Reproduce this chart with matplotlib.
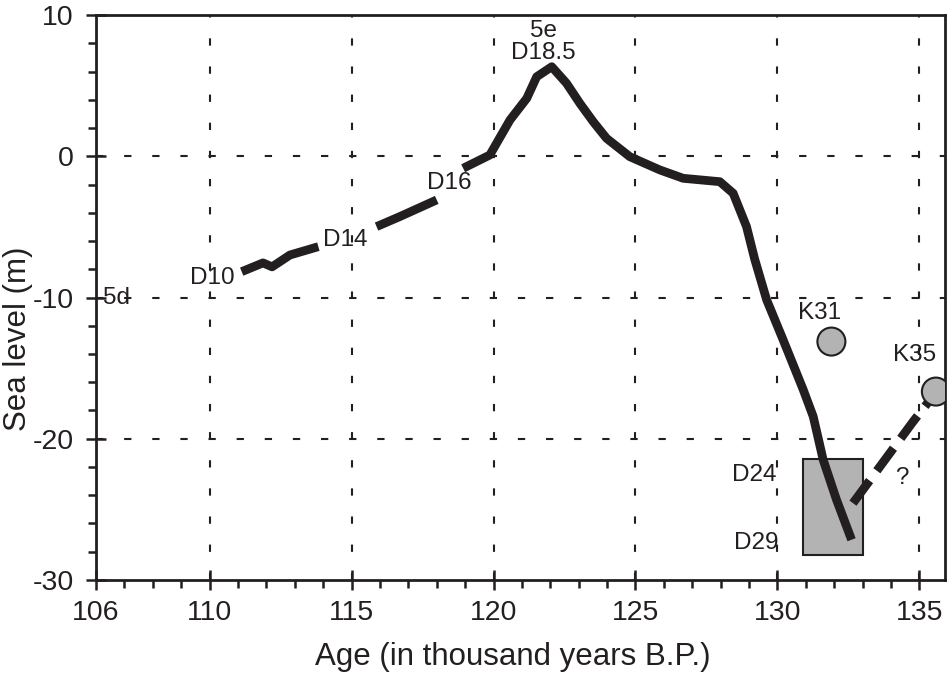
import matplotlib
matplotlib.use("Agg")
import matplotlib.pyplot as plt
from matplotlib.patches import Rectangle, Ellipse
from matplotlib.ticker import MultipleLocator

plt.rcParams['font.family'] = ['Liberation Sans', 'DejaVu Sans']
plt.rcParams['axes.unicode_minus'] = False

# sea level curve, pieces between the labels
seg1_x = [111.13, 111.88, 112.2, 112.83, 113.83]
seg1_y = [-8.17, -7.55, -7.83, -6.99, -6.40]
seg2_x = [115.88, 116.70, 118.0]
seg2_y = [-4.98, -4.27, -3.09]
seg3_x = [118.93, 119.87, 120.58, 121.17, 121.52, 122.05, 122.57, 123.04, 123.51,
          123.98, 124.80, 125.86, 126.68, 127.97, 128.44, 128.91, 129.2, 129.62,
          130.20, 130.91, 131.26, 131.61, 132.08, 132.61]
seg3_y = [-0.85, 0.09, 2.57, 4.10, 5.63, 6.34, 5.17, 3.75, 2.45,
          1.27, -0.03, -0.97, -1.56, -1.80, -2.62, -4.98, -7.3, -10.17,
          -13.0, -16.54, -18.43, -21.49, -24.32, -27.15]
dash_x = [132.66, 134.78, 135.60]
dash_y = [-24.56, -18.78, -16.66]

# samples
k_names = ['K31', 'K35']
k_x = [131.90, 135.58]
k_y = [-13.12, -16.66]
box_x = [130.9, 133.0]
box_y = [-28.2, -21.4]

xticks = [106, 110, 115, 120, 125, 130, 135]
yticks = [-30, -20, -10, 0, 10]

ink = '#231f20'
gray = '#b3b3b3'

fig = plt.figure(figsize=(9.5, 6.74), dpi=100)
ax = fig.add_axes([0.1011, 0.1395, 0.8936, 0.8382])
ax.set_xlim(106, 135.9)
ax.set_ylim(-30, 10)

for v in [110, 115, 120, 125, 130, 135]:
    ax.axvline(v, color=ink, lw=1.5, ls=(0, (3.5, 10)), zorder=1)
for v in [0, -10, -20]:
    ax.axhline(v, color=ink, lw=1.5, ls=(0, (3.5, 10)), zorder=1)

ax.add_patch(Rectangle((box_x[0], box_y[0]), box_x[1] - box_x[0], box_y[1] - box_y[0],
                       facecolor=gray, edgecolor=ink, lw=1.5, zorder=2))

for xs, ys in [(seg1_x, seg1_y), (seg2_x, seg2_y), (seg3_x, seg3_y)]:
    ax.plot(xs, ys, color=ink, lw=6.3, solid_capstyle='butt', solid_joinstyle='round', zorder=3)
ax.plot(dash_x, dash_y, color=ink, lw=6.3, ls=(0, (3.2, 1.4)), dash_capstyle='butt', zorder=3)

# circles (ellipse in data units so they look round)
rx = 14 / 28.4
ry = 14 / 14.13
for x, y in zip(k_x, k_y):
    ax.add_patch(Ellipse((x, y), 2 * rx, 2 * ry, facecolor=gray, edgecolor=ink, lw=1.5, zorder=4))

fs = 17.5
labels = [('D10', 110.1, -8.6), ('D14', 114.77, -5.9), ('D16', 118.43, -1.9),
          ('D18.5', 121.77, 7.31), ('5e', 121.77, 8.85), ('K31', 131.49, -11.1),
          ('K35', 134.84, -14.06), ('D24', 129.2, -22.6), ('D29', 129.27, -27.4),
          ('?', 134.38, -22.77)]
for t, x, y in labels:
    ax.text(x, y, t, fontsize=fs, ha='center', va='center', color=ink, zorder=5)
ax.text(106.25, -10, '5d', fontsize=fs, ha='left', va='center', color=ink, zorder=5)

ax.set_xticks(xticks)
ax.set_yticks(yticks)
ax.xaxis.set_minor_locator(MultipleLocator(1))
ax.yaxis.set_minor_locator(MultipleLocator(2))
ax.tick_params(which='major', direction='inout', length=14, width=1.8, color=ink,
               labelsize=20.5, labelcolor=ink)
ax.tick_params(which='minor', direction='out', length=6, width=1.8, color=ink)
ax.tick_params(axis='x', which='major', pad=7.5)
ax.tick_params(axis='y', which='major', pad=9)

for s in ax.spines.values():
    s.set_color(ink)
    s.set_linewidth(2)

ax.set_xlabel('Age (in thousand years B.P.)', fontsize=22.5, color=ink)
ax.set_ylabel('Sea level (m)', fontsize=22.5, color=ink)
ax.xaxis.set_label_coords(0.491, -0.109)
ax.xaxis.label.set_va('top')
ax.yaxis.set_label_coords(-0.0742, 0.4265)

fig.savefig('out.png', dpi=100)
